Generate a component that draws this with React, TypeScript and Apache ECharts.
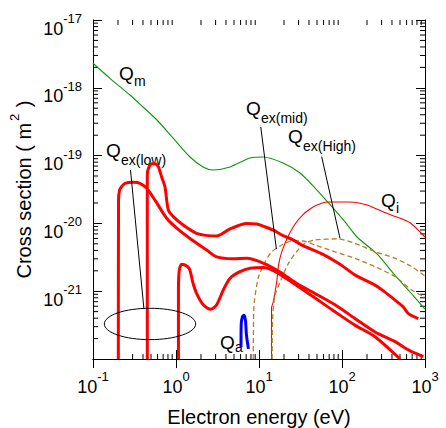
import React, { useEffect, useRef } from "react";
import * as echarts from "echarts";

const FONT = '"Liberation Sans", Arial, Helvetica, sans-serif';
const X_MIN = 0.1;
const X_MAX = 1000;
const Y_MIN = 1e-22;
const Y_MAX = 1e-17;

// Momentum transfer cross section Qm
const qmEnergy = [0.1, 0.16, 0.279, 0.4, 0.59, 0.92, 1.475, 2.115, 2.79, 4.47, 7.79, 11.17, 19.46, 31.2, 48.6, 77.9, 108.7, 151.6, 264, 412, 660, 1000];
const qmCross = [2.3e-18, 1.38e-18, 7.83e-19, 5.21e-19, 3.35e-19, 1.82e-19, 9.53e-20, 6.79e-20, 6.14e-20, 6.79e-20, 9.22e-20, 9.53e-20, 7.78e-20, 5.53e-20, 3.21e-20, 1.69e-20, 1.05e-20, 6.3e-21, 3.54e-21, 1.85e-21, 9.73e-22, 5.46e-22];

// Ionization Qi
const qiEnergy = [14.15, 14.15, 14.87, 16.34, 17.2, 18.8, 22.5, 27.2, 33.9, 41.2, 50, 66, 125, 200, 312, 460, 660, 1000];
const qiCross = [1e-22, 5.65e-22, 7.0e-22, 1.38e-21, 2.43e-21, 3.8e-21, 6.5e-21, 9.8e-21, 1.35e-20, 1.63e-20, 1.87e-20, 2.07e-20, 2.07e-20, 1.87e-20, 1.48e-20, 1.24e-20, 1.02e-20, 6.3e-21];

// Low-energy excitation (three thick red curves)
const lowAEnergy = [0.202, 0.203, 0.209, 0.222, 0.243, 0.306, 0.368, 0.444, 0.558, 0.772, 1.02, 1.47, 2.34, 3.09, 4.86, 7.1, 11.2, 17.9, 27.9, 48.6, 82.4, 143, 250, 436, 630, 955];
const lowACross = [1e-22, 2.2e-20, 3.1e-20, 3.5e-20, 3.9e-20, 4.03e-20, 3.9e-20, 3.3e-20, 2.2e-20, 1.19e-20, 8.5e-21, 6.0e-21, 4.05e-21, 3.2e-21, 3.0e-21, 3.05e-21, 2.6e-21, 1.92e-21, 1.32e-21, 9.1e-22, 6.3e-22, 3.97e-22, 2.5e-22, 1.8e-22, 1.36e-22, 1.08e-22];

const lowBEnergy = [0.451, 0.451, 0.473, 0.514, 0.574, 0.615, 0.673, 0.737, 0.807, 0.927, 1.22, 1.77, 2.43, 3.1, 4.48, 7.1, 9.4, 11.2, 14.7, 19.5, 25.7, 33.9, 59, 94.6, 143, 195, 250, 312, 436, 548, 630, 830];
const lowBCross = [1e-22, 5.2e-20, 6.8e-20, 7.6e-20, 7.5e-20, 6.8e-20, 4.8e-20, 3.45e-20, 1.58e-20, 1.26e-20, 9.5e-21, 7.15e-21, 6.6e-21, 6.5e-21, 8.3e-21, 1.0e-20, 9.8e-21, 9.1e-21, 8.0e-21, 6.6e-21, 5.7e-21, 4.7e-21, 3.5e-21, 2.5e-21, 1.74e-21, 1.43e-21, 1.23e-21, 1.02e-21, 7.4e-22, 5.85e-22, 4.67e-22, 3.95e-22];

const lowCEnergy = [1.07, 1.07, 1.096, 1.17, 1.35, 1.47, 1.6, 1.77, 2.13, 2.62, 3.09, 3.72, 4.48, 5.9, 7.8, 11.2, 16.0, 36.8, 78, 143, 250, 500];
const lowCCross = [1e-22, 1.05e-21, 2.06e-21, 2.5e-21, 2.35e-21, 2.06e-21, 1.32e-21, 9.3e-22, 6.3e-22, 5.4e-22, 6.3e-22, 1.05e-21, 1.55e-21, 1.94e-21, 2.18e-21, 2.24e-21, 1.92e-21, 9.8e-22, 5.2e-22, 3.16e-22, 2.13e-22, 1.0e-22];

// Mid / high excitation (dashed)
const midEnergy = [8.53, 8.6, 8.77, 9.8, 11.8, 14.2, 18.8, 25, 33.9, 47.3, 82.4, 143, 250, 436, 692, 1000];
const midCross = [1e-22, 3.76e-22, 6.9e-22, 1.57e-21, 2.7e-21, 3.8e-21, 4.8e-21, 5.5e-21, 5.5e-21, 4.8e-21, 3.8e-21, 3.05e-21, 2.3e-21, 1.64e-21, 1.04e-21, 8.2e-22];

const highEnergy = [14.4, 14.6, 15.6, 18.8, 22.6, 28.4, 35.8, 47.3, 89.5, 143, 250, 436, 692, 1000];
const highCross = [1e-22, 4.0e-22, 8.8e-22, 1.55e-21, 2.57e-21, 3.83e-21, 5.1e-21, 5.7e-21, 5.9e-21, 5.1e-21, 3.83e-21, 3.05e-21, 2.3e-21, 1.67e-21];

// Attachment Qa
const qaEnergy = [6.07, 6.1, 6.3, 6.6, 6.87, 7.06, 7.46];
const qaCross = [1.5e-22, 3.2e-22, 4.17e-22, 4.4e-22, 3.7e-22, 2.26e-22, 1.41e-22];

// Pointer lines (start at label, end at curve)
const ptrLowEnergy = [0.283, 0.411];
const ptrLowCross = [6.14e-20, 5.45e-22];
const ptrMidEnergy = [10.5, 16.2];
const ptrMidCross = [2.64e-19, 4.19e-21];
const ptrHighEnergy = [56.9, 94.6];
const ptrHighCross = [9.64e-20, 6.03e-21];

// Ellipse around Qex(low) thresholds: two opposite corners
const ellipseEnergy = [0.137, 1.727];
const ellipseCross = [5.6e-22, 1.93e-22];

// Curve labels: subscript, anchor (baseline-left of "Q")
const labelNames = ["m", "ex(low)", "ex(mid)", "ex(High)", "i", "a"];
const labelEnergy = [0.206, 0.1434, 6.97, 22.4, 295, 3.4];
const labelCross = [1.3e-18, 9.53e-20, 3.97e-19, 1.54e-19, 1.75e-20, 1.4e-22];

// Axis ticks
const minorMultipliers = [2, 3, 4, 5, 6, 7, 8, 9];
const xDecades = [0.1, 1, 10, 100];
const yDecades = [1e-22, 1e-21, 1e-20, 1e-19, 1e-18];

const pair = (xs: number[], ys: number[]) => xs.map((x, i) => [x, ys[i]]);

const RED = "#ff0000";
const GREEN = "#0c960c";
const DASH = "#b0802a";
const MAJOR_LEN = 9;
const MINOR_LEN = 5;
const SUB_DROP = [6, 8, 8, 8, 6, 3];

const expRich = {
  b: { fontSize: 18, fontFamily: FONT, color: "#000", lineHeight: 20, verticalAlign: "top", padding: [9.5, 0, 0.5, 0] },
  e: { fontSize: 13, fontFamily: FONT, color: "#000", lineHeight: 14, verticalAlign: "top", padding: [2, 0, 0, 0] },
};
const expFormatter = (v: number) => `{b|10}{e|${Math.round(Math.log10(v))}}`;

export default function App() {
  const ref = useRef<HTMLDivElement>(null);

  useEffect(() => {
    document.body.style.margin = "0";
    if (!ref.current) return;
    const chart = echarts.init(ref.current, null, { renderer: "svg" });

    const minorX = xDecades.flatMap((d) => minorMultipliers.map((m) => m * d));
    const minorY = yDecades.flatMap((d) => minorMultipliers.map((m) => m * d));

    const lineSeries = (name: string, data: number[][], color: string, width: number, type: any = "solid", z = 2) => ({
      name,
      type: "line",
      data,
      showSymbol: false,
      symbol: "none",
      smooth: 0.25,
      lineStyle: { color, width, type },
      z,
      silent: true,
    });

    const tickStyle = { stroke: "#000", lineWidth: 1 };

    const option: any = {
      animation: false,
      backgroundColor: "#fff",
      grid: { left: 93, right: 21, top: 20, bottom: 69, containLabel: false, outerBoundsMode: "none" },
      xAxis: [
        {
          type: "log",
          logBase: 10,
          min: X_MIN,
          max: X_MAX,
          position: "bottom",
          axisLine: { show: true, lineStyle: { color: "#000", width: 1 } },
          axisTick: { show: true, inside: true, length: MAJOR_LEN, lineStyle: { color: "#000" } },
          splitLine: { show: false },
          minorTick: { show: false },
          axisLabel: { show: true, margin: 9, formatter: expFormatter, rich: expRich, showMinLabel: true, showMaxLabel: true },
          name: "Electron energy (eV)",
          nameLocation: "middle",
          nameGap: 46,
          nameTextStyle: { fontSize: 20, fontFamily: FONT, color: "#000", lineHeight: 24 },
        },
        {
          type: "log",
          logBase: 10,
          min: X_MIN,
          max: X_MAX,
          position: "top",
          axisLine: { show: true, lineStyle: { color: "#000", width: 1 } },
          axisTick: { show: true, inside: true, length: MAJOR_LEN, lineStyle: { color: "#000" } },
          splitLine: { show: false },
          axisLabel: { show: false },
        },
      ],
      yAxis: [
        {
          type: "log",
          logBase: 10,
          min: Y_MIN,
          max: Y_MAX,
          position: "left",
          axisLine: { show: true, lineStyle: { color: "#000", width: 1 } },
          axisTick: { show: true, inside: true, length: MAJOR_LEN, lineStyle: { color: "#000" } },
          splitLine: { show: false },
          axisLabel: { show: true, margin: 11, formatter: expFormatter, rich: expRich, showMinLabel: true, showMaxLabel: true },
        },
        {
          type: "log",
          logBase: 10,
          min: Y_MIN,
          max: Y_MAX,
          position: "right",
          axisLine: { show: true, lineStyle: { color: "#000", width: 1 } },
          axisTick: { show: true, inside: true, length: MAJOR_LEN, lineStyle: { color: "#000" } },
          splitLine: { show: false },
          axisLabel: { show: false },
        },
      ],
      series: [
        lineSeries("Qm", pair(qmEnergy, qmCross), GREEN, 1.1),
        lineSeries("Qi", pair(qiEnergy, qiCross), RED, 1.1),
        lineSeries("Qex(mid)", pair(midEnergy, midCross), DASH, 1.3, [5, 3]),
        lineSeries("Qex(High)", pair(highEnergy, highCross), DASH, 1.3, [5, 3]),
        lineSeries("Qex(low) A", pair(lowAEnergy, lowACross), RED, 3),
        lineSeries("Qex(low) B", pair(lowBEnergy, lowBCross), RED, 3),
        lineSeries("Qex(low) C", pair(lowCEnergy, lowCCross), RED, 3),
        lineSeries("Qa", pair(qaEnergy, qaCross), "#0000ff", 3),
        { ...lineSeries("ptr low", pair(ptrLowEnergy, ptrLowCross), "#000", 1), smooth: false, z: 3 },
        { ...lineSeries("ptr mid", pair(ptrMidEnergy, ptrMidCross), "#000", 1), smooth: false, z: 3 },
        { ...lineSeries("ptr high", pair(ptrHighEnergy, ptrHighCross), "#000", 1), smooth: false, z: 3 },
        {
          type: "custom",
          silent: true,
          data: minorX.map((v) => [v, Y_MIN]),
          renderItem: (_p: any, api: any) => {
            const v = api.value(0);
            const b = api.coord([v, Y_MIN]);
            const t = api.coord([v, Y_MAX]);
            return {
              type: "group",
              children: [
                { type: "line", shape: { x1: b[0], y1: b[1], x2: b[0], y2: b[1] - MINOR_LEN }, style: tickStyle },
                { type: "line", shape: { x1: t[0], y1: t[1], x2: t[0], y2: t[1] + MINOR_LEN }, style: tickStyle },
              ],
            };
          },
        },
        {
          type: "custom",
          silent: true,
          data: minorY.map((v) => [X_MIN, v]),
          renderItem: (_p: any, api: any) => {
            const v = api.value(1);
            const l = api.coord([X_MIN, v]);
            const r = api.coord([X_MAX, v]);
            return {
              type: "group",
              children: [
                { type: "line", shape: { x1: l[0], y1: l[1], x2: l[0] + MINOR_LEN, y2: l[1] }, style: tickStyle },
                { type: "line", shape: { x1: r[0], y1: r[1], x2: r[0] - MINOR_LEN, y2: r[1] }, style: tickStyle },
              ],
            };
          },
        },
      ],
    };

    chart.setOption(option);

    const toPx = (e: number, q: number) => chart.convertToPixel({ xAxisIndex: 0, yAxisIndex: 0 }, [e, q]) as number[];
    const graphics: any[] = [];
    const QF = 19;
    const SF = 14;
    labelNames.forEach((sub, i) => {
      const p = toPx(labelEnergy[i], labelCross[i]);
      graphics.push({
        type: "text",
        x: p[0],
        y: p[1] - 0.35 * QF,
        style: { text: "Q", fontSize: QF, fontFamily: FONT, fill: "#000", align: "left", verticalAlign: "middle" },
      });
      graphics.push({
        type: "text",
        x: p[0] + 15,
        y: p[1] + SUB_DROP[i] - 0.35 * SF,
        style: { text: sub, fontSize: SF, fontFamily: FONT, fill: "#000", align: "left", verticalAlign: "middle" },
      });
    });
    const e1 = toPx(ellipseEnergy[0], ellipseCross[0]);
    const e2 = toPx(ellipseEnergy[1], ellipseCross[1]);
    graphics.push({
      type: "ellipse",
      shape: { cx: (e1[0] + e2[0]) / 2, cy: (e1[1] + e2[1]) / 2, rx: Math.abs(e2[0] - e1[0]) / 2, ry: Math.abs(e2[1] - e1[1]) / 2 },
      style: { fill: "none", stroke: "#000", lineWidth: 1 },
      z: 10,
    });
    // Y axis title (rotated), centred on the plot's vertical middle
    const top = toPx(X_MIN, Y_MAX);
    const bot = toPx(X_MIN, Y_MIN);
    graphics.push({
      type: "text",
      x: 19,
      y: (top[1] + bot[1]) / 2,
      rotation: Math.PI / 2,
      style: {
        text: "{n|Cross section ( m}{s|2}{n| )}",
        align: "center",
        verticalAlign: "middle",
        rich: {
          n: { fontSize: 20, fontFamily: FONT, fill: "#000", lineHeight: 22, verticalAlign: "top", padding: [6, 0, 0, 0] },
          s: { fontSize: 13, fontFamily: FONT, fill: "#000", lineHeight: 14, verticalAlign: "top", padding: [0, 1, 0, 2] },
        },
      },
    });
    chart.setOption({ graphic: graphics });

    return () => chart.dispose();
  }, []);

  return <div ref={ref} style={{ position: "absolute", left: 0, top: 0, width: 446, height: 428 }} />;
}
